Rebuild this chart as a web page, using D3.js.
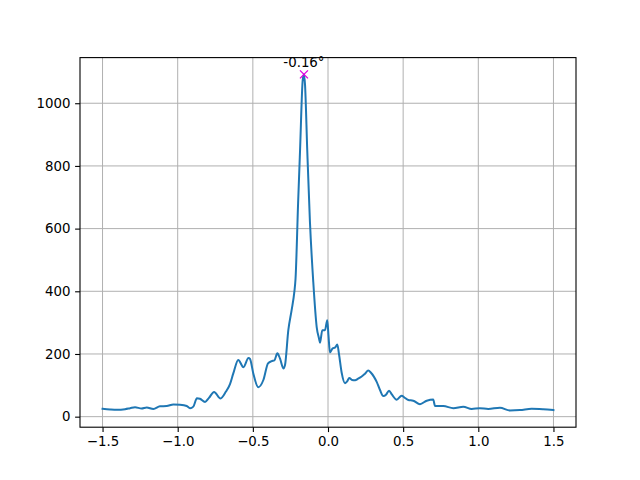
<!DOCTYPE html>
<html><head><meta charset="utf-8">
<script src="https://cdn.jsdelivr.net/npm/d3@7"></script>
<style>body{margin:0;background:#fff}svg{display:block}text{font-family:"DejaVu Sans",sans-serif}</style>
</head><body>
<script>
const angles = [-1.50,-1.45,-1.404,-1.35,-1.317,-1.284,-1.24,-1.206,-1.162,-1.118,-1.073,-1.029,-0.985,-0.94,-0.918,-0.896,-0.872,-0.852,-0.818,-0.792,-0.758,-0.715,-0.679,-0.652,-0.63,-0.597,-0.563,-0.529,-0.519,-0.497,-0.464,-0.43,-0.399,-0.375,-0.356,-0.337,-0.319,-0.297,-0.286,-0.264,-0.242,-0.224,-0.216,-0.199,-0.186,-0.168,-0.16,-0.153,-0.138,-0.12,-0.098,-0.075,-0.06,-0.053,-0.038,-0.02,-0.005,0.003,0.013,0.031,0.046,0.062,0.073,0.091,0.113,0.126,0.142,0.16,0.18,0.2,0.224,0.246,0.268,0.286,0.306,0.324,0.346,0.368,0.386,0.406,0.426,0.457,0.49,0.506,0.534,0.567,0.612,0.657,0.70,0.712,0.767,0.834,0.90,0.956,1.01,1.066,1.144,1.21,1.277,1.355,1.432,1.50];
const power = [25,23,22,24,27,30,26,29,24.5,33,34,39,38,34,27,32,59,57,47,60,79,58,80,104,138,181,158,187,184,138,94,117,170,177,180,202,185,154,165,276,340,398,440,680,849,1075,1092,1060,849,620,430,285,250,236,276,276,308,260,205,218,220,230,200,140,107,112,123,117,116,121,128,137,147,140,127,111,85,66,70,83,70,54,67,62,53,51,40,51,55,34,34,27,32,24.5,27,24.5,28.6,20,21,25,23.5,21];
const xTicks = [-1.5,-1.0,-0.5,0.0,0.5,1.0,1.5];
const yTicks = [0,200,400,600,800,1000];

const W=640,H=480, L=80, R=576, T=57.6, B=427.2;
const svg=d3.select("body").append("svg").attr("width",W).attr("height",H);
const data=angles.map((a,i)=>({x:a,y:power[i]}));
const xmin=d3.min(angles), xmax=d3.max(angles), ymin=d3.min(power), ymax=d3.max(power);
const x=d3.scaleLinear().domain([xmin-0.05*(xmax-xmin), xmax+0.05*(xmax-xmin)]).range([L,R]);
const y=d3.scaleLinear().domain([ymin-0.05*(ymax-ymin), ymax+0.05*(ymax-ymin)]).range([B,T]);

const fmt=d=>d3.format(".1f")(d).replace("-","\u2212");
// grid
const g=svg.append("g");
g.selectAll(".gx").data(xTicks).enter().append("line").attr("x1",d=>x(d)).attr("x2",d=>x(d)).attr("y1",T).attr("y2",B).attr("stroke","#b0b0b0").attr("stroke-width",1);
g.selectAll(".gy").data(yTicks).enter().append("line").attr("y1",d=>y(d)).attr("y2",d=>y(d)).attr("x1",L).attr("x2",R).attr("stroke","#b0b0b0").attr("stroke-width",1);

// line
const line=d3.line().x(d=>x(d.x)).y(d=>y(d.y)).curve(d3.curveMonotoneX);
const clip=svg.append("clipPath").attr("id","c").append("rect").attr("x",L).attr("y",T).attr("width",R-L).attr("height",B-T);
svg.append("path").datum(data).attr("d",line).attr("fill","none").attr("stroke","#1f77b4").attr("stroke-width",2).attr("stroke-linejoin","round").attr("stroke-linecap","square");

// peak marker
const pk=data.reduce((a,b)=>b.y>a.y?b:a);
const px=x(pk.x), py=y(pk.y), m=4;
svg.append("path").attr("d",`M${px-m},${py-m}L${px+m},${py+m}M${px-m},${py+m}L${px+m},${py-m}`).attr("stroke","#e000e0").attr("stroke-width",1.3);
svg.append("text").attr("x",px).attr("y",py-7).attr("text-anchor","middle").attr("font-size",13.33).attr("fill","#000").text(pk.x.toFixed(2)+"°");

// axes
const ax=svg.append("g").attr("transform",`translate(0,${B})`).call(d3.axisBottom(x).tickValues(xTicks).tickFormat(fmt).tickSize(4.9).tickPadding(4.7));
const ay=svg.append("g").attr("transform",`translate(${L},0)`).call(d3.axisLeft(y).tickValues(yTicks).tickFormat(d3.format("d")).tickSize(4.9).tickPadding(4.7));
[ax,ay].forEach(a=>{a.select(".domain").remove();a.selectAll("text").attr("font-size",13.33).attr("font-family","DejaVu Sans").attr("fill","#000");a.selectAll("line").attr("stroke","#000").attr("stroke-width",1.1);});
svg.append("rect").attr("x",L).attr("y",T).attr("width",R-L).attr("height",B-T).attr("fill","none").attr("stroke","#000").attr("stroke-width",1.1);
</script>
</body></html>
